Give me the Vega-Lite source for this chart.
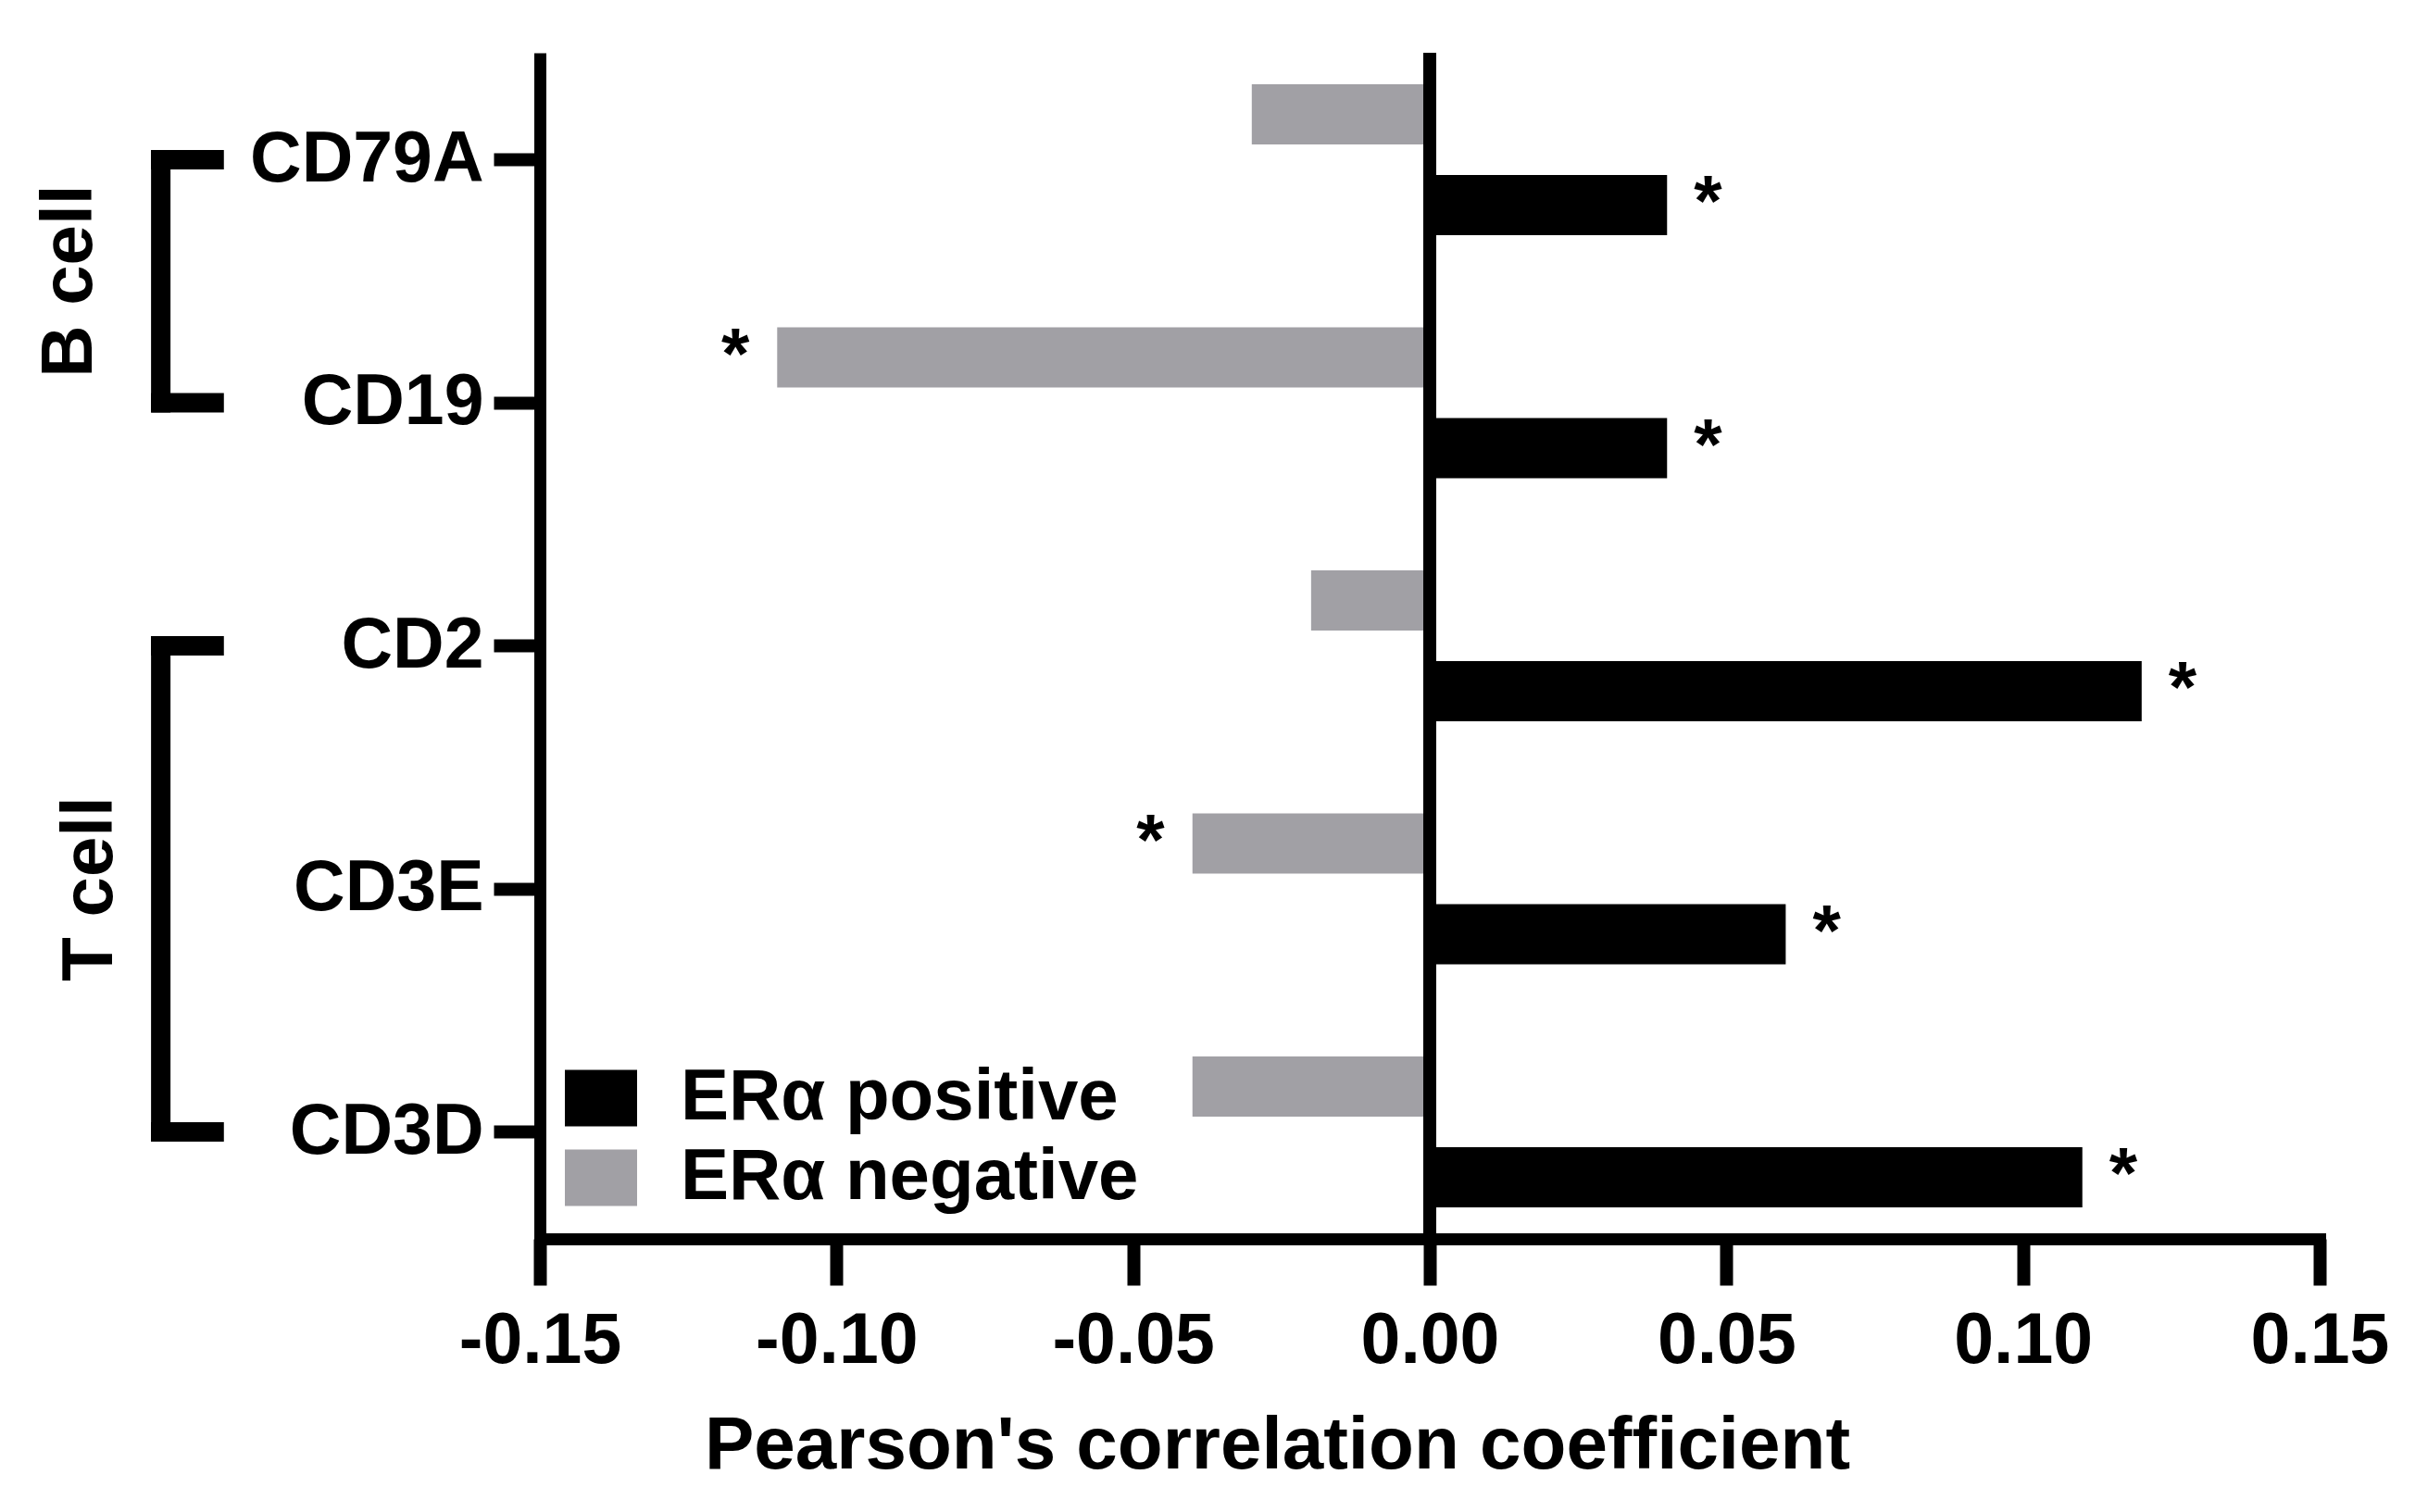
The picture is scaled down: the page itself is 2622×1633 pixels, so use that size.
{
  "$schema": "https://vega.github.io/schema/vega-lite/v6.json",
  "width": 1922,
  "height": 1281,
  "autosize": {"type": "none"},
  "padding": {"left": 583, "top": 57, "right": 117, "bottom": 295},
  "background": "white",
  "config": {
    "view": {"stroke": null},
    "font": "Liberation Sans",
    "axis": {
      "grid": false,
      "domainColor": "black",
      "domainWidth": 13,
      "tickColor": "black",
      "tickWidth": 14,
      "tickSize": 50,
      "labelFont": "Liberation Sans",
      "labelFontWeight": "bold",
      "labelFontSize": 77,
      "labelColor": "black",
      "labelLimit": 1000,
      "labelFlush": false,
      "labelOverlap": false,
      "titleFont": "Liberation Sans",
      "titleFontWeight": "bold",
      "titleFontSize": 80,
      "titleColor": "black"
    }
  },
  "datasets": {
    "bars": [
      {"gene": "CD79A", "status": "ERα negative", "value": -0.03, "sig": ""},
      {"gene": "CD79A", "status": "ERα positive", "value": 0.04, "sig": "*"},
      {"gene": "CD19", "status": "ERα negative", "value": -0.11, "sig": "*"},
      {"gene": "CD19", "status": "ERα positive", "value": 0.04, "sig": "*"},
      {"gene": "CD2", "status": "ERα negative", "value": -0.02, "sig": ""},
      {"gene": "CD2", "status": "ERα positive", "value": 0.12, "sig": "*"},
      {"gene": "CD3E", "status": "ERα negative", "value": -0.04, "sig": "*"},
      {"gene": "CD3E", "status": "ERα positive", "value": 0.06, "sig": "*"},
      {"gene": "CD3D", "status": "ERα negative", "value": -0.04, "sig": ""},
      {"gene": "CD3D", "status": "ERα positive", "value": 0.11, "sig": "*"}
    ],
    "brackets": [
      {"group": "B cell", "from": "CD79A", "to": "CD19"},
      {"group": "T cell", "from": "CD2", "to": "CD3D"}
    ],
    "genes": [
      {"gene": "CD79A", "group": "B cell", "order": 0},
      {"gene": "CD19", "group": "B cell", "order": 1},
      {"gene": "CD2", "group": "T cell", "order": 2},
      {"gene": "CD3E", "group": "T cell", "order": 3},
      {"gene": "CD3D", "group": "T cell", "order": 4}
    ]
  },
  "layer": [
    {
      "layer": [
        {
          "data": {"name": "bars"},
          "mark": {"type": "bar"},
          "encoding": {
            "y": {
              "field": "gene", "type": "nominal",
              "scale": {"domain": ["CD79A", "CD19", "CD2", "CD3E", "CD3D"], "paddingInner": 0.3, "paddingOuter": 0.09},
              "axis": {"title": null, "labelPadding": 11, "domainCap": "butt", "labelLimit": 1000}
            },
            "yOffset": {
              "field": "status", "type": "nominal",
              "scale": {"domain": ["ERα negative", "ERα positive"], "paddingInner": 0.337, "paddingOuter": 0.107}
            },
            "x": {
              "field": "value", "type": "quantitative",
              "scale": {"domain": [-0.15, 0.15], "nice": false},
              "title": "Pearson's correlation coefficient",
              "axis": {
                "values": [-0.15, -0.1, -0.05, 0, 0.05, 0.1, 0.15],
                "format": ".2f",
                "labelExpr": "replace(datum.label, '\u2212', '-')",
                "labelFlush": false,
                "labelPadding": 22,
                "titlePadding": 36,
                "titleX": 796,
                "domainCap": "square"
              }
            },
            "color": {
              "field": "status", "type": "nominal",
              "scale": {"domain": ["ERα positive", "ERα negative"], "range": ["#000000", "#a1a0a5"]},
              "legend": {
                "title": null,
                "orient": "bottom-left",
                "offset": 27,
                "padding": 0,
                "symbolType": "M-1,-0.78H1V0.78H-1Z",
                "symbolSize": 6084,
                "symbolStrokeWidth": 0,
                "labelFont": "Liberation Sans",
                "labelFontSize": 78,
                "labelFontWeight": "bold",
                "labelColor": "black",
                "labelOffset": 47,
                "labelLimit": 1000,
                "rowPadding": 8
              }
            }
          }
        },
        {
          "data": {"name": "bars"},
          "mark": {"type": "rule", "color": "black", "strokeWidth": 13},
          "encoding": {
            "x": {"datum": 0, "type": "quantitative", "scale": {"domain": [-0.15, 0.15], "nice": false}, "title": "Pearson's correlation coefficient"}
          }
        },
        {
          "data": {"name": "bars"},
          "transform": [{"filter": "datum.sig == '*' && datum.value > 0"}],
          "mark": {"type": "text", "align": "left", "baseline": "middle", "dx": 29, "fontSize": 78, "fontWeight": "bold", "font": "Liberation Sans", "color": "black"},
          "encoding": {
            "y": {"field": "gene", "type": "nominal", "title": null},
            "yOffset": {"field": "status", "type": "nominal"},
            "x": {"field": "value", "type": "quantitative", "scale": {"domain": [-0.15, 0.15], "nice": false}, "title": "Pearson's correlation coefficient"},
            "text": {"field": "sig"}
          }
        },
        {
          "data": {"name": "bars"},
          "transform": [{"filter": "datum.sig == '*' && datum.value < 0"}],
          "mark": {"type": "text", "align": "right", "baseline": "middle", "dx": -30, "fontSize": 78, "fontWeight": "bold", "font": "Liberation Sans", "color": "black"},
          "encoding": {
            "y": {"field": "gene", "type": "nominal", "title": null},
            "yOffset": {"field": "status", "type": "nominal"},
            "x": {"field": "value", "type": "quantitative", "scale": {"domain": [-0.15, 0.15], "nice": false}, "title": "Pearson's correlation coefficient"},
            "text": {"field": "sig"}
          }
        },
        {
          "data": {"name": "brackets"},
          "mark": {"type": "rule", "color": "black", "strokeWidth": 21, "strokeCap": "square"},
          "encoding": {
            "x": {"datum": -0.2139, "type": "quantitative", "scale": {"domain": [-0.15, 0.15], "nice": false}, "title": "Pearson's correlation coefficient"},
            "y": {"field": "from", "type": "nominal", "title": null},
            "y2": {"field": "to"}
          }
        },
        {
          "data": {"name": "brackets"},
          "transform": [{"fold": ["from", "to"], "as": ["end", "gene"]}],
          "mark": {"type": "rule", "color": "black", "strokeWidth": 21, "strokeCap": "square"},
          "encoding": {
            "x": {"datum": -0.2139, "type": "quantitative", "scale": {"domain": [-0.15, 0.15], "nice": false}, "title": "Pearson's correlation coefficient"},
            "x2": {"datum": -0.2049},
            "y": {"field": "gene", "type": "nominal", "title": null}
          }
        }
      ]
    },
    {
      "data": {"name": "genes"},
      "transform": [
        {"filter": "datum.group == 'B cell'"},
        {"aggregate": [{"op": "mean", "field": "order", "as": "mid"}], "groupby": ["group"]}
      ],
      "mark": {"type": "text", "angle": 270, "align": "center", "baseline": "alphabetic", "fontSize": 78, "fontWeight": "bold", "font": "Liberation Sans", "color": "black"},
      "encoding": {
        "x": {"datum": -0.2256, "type": "quantitative", "scale": {"domain": [-0.15, 0.15], "nice": false}, "title": "Pearson's correlation coefficient"},
        "y": {"field": "mid", "type": "quantitative", "scale": {"domain": [-0.44, 4.44], "reverse": true, "nice": false, "zero": false}, "axis": null},
        "text": {"field": "group"}
      }
    },
    {
      "data": {"name": "genes"},
      "transform": [
        {"filter": "datum.group == 'T cell'"},
        {"aggregate": [{"op": "mean", "field": "order", "as": "mid"}], "groupby": ["group"]}
      ],
      "mark": {"type": "text", "angle": 270, "align": "center", "baseline": "alphabetic", "fontSize": 78, "fontWeight": "bold", "font": "Liberation Sans", "color": "black"},
      "encoding": {
        "x": {"datum": -0.2221, "type": "quantitative", "scale": {"domain": [-0.15, 0.15], "nice": false}, "title": "Pearson's correlation coefficient"},
        "y": {"field": "mid", "type": "quantitative", "scale": {"domain": [-0.44, 4.44], "reverse": true, "nice": false, "zero": false}, "axis": null},
        "text": {"field": "group"}
      }
    }
  ],
  "resolve": {"scale": {"y": "independent"}}
}
